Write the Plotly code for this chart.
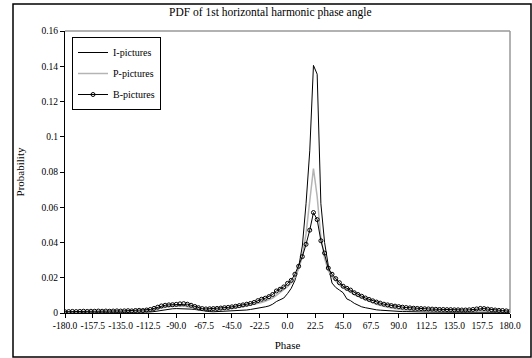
import plotly.graph_objects as go

# Phase bin centres (degrees)
phase = [-180, -177, -174, -171, -168, -165, -162, -159, -156, -153, -150, -147, -144, -141, -138, -135,
         -132, -129, -126, -123, -120, -117, -114, -111, -108, -105, -102, -99, -96, -93, -90, -87,
         -84, -81, -78, -75, -72, -69, -66, -63, -60, -57, -54, -51, -48, -45, -42, -39,
         -36, -33, -30, -27, -24, -21, -18, -15, -12, -9, -6, -3, 0, 3, 6, 9,
         12, 15, 18, 21, 24, 27, 30, 33, 36, 39, 42, 45, 48, 51, 54, 57,
         60, 63, 66, 69, 72, 75, 78, 81, 84, 87, 90, 93, 96, 99, 102, 105,
         108, 111, 114, 117, 120, 123, 126, 129, 132, 135, 138, 141, 144, 147, 150, 153,
         156, 159, 162, 165, 168, 171, 174, 177, 180]

i_pictures = [0.0003, 0.0003, 0.0004, 0.0003, 0.0004, 0.0004, 0.0003, 0.0004, 0.0004, 0.0005, 0.0004, 0.0004, 0.0005, 0.0004, 0.0005, 0.0005,
              0.0005, 0.0006, 0.0005, 0.0006, 0.0006, 0.0005, 0.0005, 0.0006, 0.0008, 0.0012, 0.0016, 0.0020, 0.0023, 0.0024, 0.0025, 0.0025,
              0.0024, 0.0023, 0.0022, 0.0020, 0.0016, 0.0013, 0.0010, 0.0008, 0.0007, 0.0008, 0.0007, 0.0008, 0.0008, 0.0009, 0.0010, 0.0012,
              0.0015, 0.0017, 0.0020, 0.0023, 0.0028, 0.0032, 0.0035, 0.0040, 0.0050, 0.0065, 0.0075, 0.0085, 0.0110, 0.0140, 0.0185, 0.0260,
              0.0380, 0.0620, 0.0920, 0.1405, 0.1355, 0.0620, 0.0400, 0.0270, 0.0170, 0.0145, 0.0130, 0.0115, 0.0080, 0.0070, 0.0055, 0.0045,
              0.0035, 0.0030, 0.0025, 0.0022, 0.0018, 0.0016, 0.0014, 0.0012, 0.0011, 0.0010, 0.0009, 0.0008, 0.0008, 0.0007, 0.0007, 0.0006,
              0.0006, 0.0006, 0.0005, 0.0005, 0.0005, 0.0005, 0.0004, 0.0005, 0.0004, 0.0004, 0.0004, 0.0004, 0.0004, 0.0004, 0.0005, 0.0005,
              0.0006, 0.0006, 0.0005, 0.0005, 0.0004, 0.0004, 0.0003, 0.0003, 0.0003]

p_pictures = [0.0004, 0.0005, 0.0005, 0.0005, 0.0006, 0.0006, 0.0005, 0.0006, 0.0006, 0.0007, 0.0006, 0.0007, 0.0007, 0.0007, 0.0008, 0.0007,
              0.0008, 0.0008, 0.0008, 0.0008, 0.0009, 0.0010, 0.0012, 0.0015, 0.0020, 0.0025, 0.0030, 0.0035, 0.0037, 0.0039, 0.0040, 0.0040,
              0.0039, 0.0036, 0.0031, 0.0026, 0.0021, 0.0018, 0.0016, 0.0016, 0.0017, 0.0018, 0.0019, 0.0021, 0.0023, 0.0025, 0.0028, 0.0032,
              0.0036, 0.0040, 0.0044, 0.0048, 0.0054, 0.0060, 0.0067, 0.0075, 0.0085, 0.0100, 0.0115, 0.0130, 0.0150, 0.0170, 0.0200, 0.0250,
              0.0320, 0.0450, 0.0650, 0.0820, 0.0660, 0.0430, 0.0310, 0.0240, 0.0205, 0.0180, 0.0160, 0.0145, 0.0130, 0.0118, 0.0105, 0.0095,
              0.0085, 0.0075, 0.0067, 0.0058, 0.0050, 0.0043, 0.0037, 0.0032, 0.0028, 0.0024, 0.0021, 0.0019, 0.0017, 0.0016, 0.0015, 0.0014,
              0.0013, 0.0013, 0.0012, 0.0012, 0.0011, 0.0011, 0.0010, 0.0010, 0.0010, 0.0009, 0.0009, 0.0009, 0.0009, 0.0009, 0.0009, 0.0010,
              0.0011, 0.0011, 0.0010, 0.0009, 0.0008, 0.0008, 0.0007, 0.0007, 0.0006]

b_pictures = [0.0007, 0.0008, 0.0009, 0.0008, 0.0009, 0.0010, 0.0009, 0.0010, 0.0010, 0.0011, 0.0010, 0.0011, 0.0010, 0.0011, 0.0012, 0.0011,
              0.0012, 0.0013, 0.0012, 0.0014, 0.0015, 0.0014, 0.0017, 0.0020, 0.0026, 0.0033, 0.0040, 0.0044, 0.0046, 0.0047, 0.0049, 0.0052,
              0.0053, 0.0050, 0.0044, 0.0037, 0.0030, 0.0025, 0.0023, 0.0024, 0.0025, 0.0026, 0.0028, 0.0030, 0.0032, 0.0035, 0.0038, 0.0042,
              0.0046, 0.0050, 0.0054, 0.0060, 0.0070, 0.0078, 0.0084, 0.0093, 0.0105, 0.0125, 0.0135, 0.0148, 0.0168, 0.0185, 0.0220, 0.0265,
              0.0320, 0.0390, 0.0470, 0.0570, 0.0530, 0.0410, 0.0340, 0.0255, 0.0220, 0.0195, 0.0172, 0.0152, 0.0140, 0.0130, 0.0115, 0.0105,
              0.0095, 0.0085, 0.0077, 0.0069, 0.0062, 0.0056, 0.0050, 0.0046, 0.0042, 0.0039, 0.0036, 0.0033, 0.0031, 0.0029, 0.0027, 0.0026,
              0.0025, 0.0024, 0.0023, 0.0022, 0.0021, 0.0020, 0.0020, 0.0019, 0.0019, 0.0018, 0.0018, 0.0017, 0.0017, 0.0018, 0.0020, 0.0023,
              0.0026, 0.0025, 0.0022, 0.0019, 0.0017, 0.0015, 0.0014, 0.0012, 0.0010]

x_tick_vals = [-180, -157.5, -135, -112.5, -90, -67.5, -45, -22.5, 0, 22.5, 45, 67.5, 90, 112.5, 135, 157.5, 180]
x_tick_text = ["-180.0", "-157.5", "-135.0", "-112.5", "-90.0", "-67.5", "-45.0", "-22.5", "0.0",
               "22.5", "45.0", "67.5", "90.0", "112.5", "135.0", "157.5", "180.0"]
y_tick_vals = [0, 0.02, 0.04, 0.06, 0.08, 0.1, 0.12, 0.14, 0.16]
y_tick_text = ["0", "0.02", "0.04", "0.06", "0.08", "0.1", "0.12", "0.14", "0.16"]

SERIF = "Liberation Serif, Times New Roman, serif"

fig = go.Figure()
fig.add_trace(go.Scatter(x=phase, y=i_pictures, name="I-pictures", mode="lines",
                         line=dict(color="black", width=1), legendgroup="i"))
fig.add_trace(go.Scatter(x=phase, y=p_pictures, name="P-pictures", mode="lines",
                         line=dict(color="#b4b4b4", width=1.5), legendgroup="p"))
fig.add_trace(go.Scatter(x=phase, y=b_pictures, name="B-pictures", mode="lines+markers",
                         line=dict(color="black", width=1),
                         marker=dict(symbol="circle-open", size=4, color="black", line=dict(width=1)),
                         legendgroup="b"))

W, H = 532, 358
L, R, T, B = 65, 22, 31, 45
pw, ph = W - L - R, H - T - B

def px_x(p):
    return (p - L) / pw

def px_y(p):
    return (H - B - p) / ph

fig.update_layout(
    width=W, height=H,
    margin=dict(l=L, r=R, t=T, b=B, autoexpand=False),
    paper_bgcolor="white", plot_bgcolor="white",
    font=dict(family=SERIF, size=10, color="black"),
    title=dict(text="PDF of 1st horizontal harmonic phase angle", x=0.508, xanchor="center",
               y=1 - 12 / H, yanchor="middle", font=dict(family=SERIF, size=11.5, color="black")),
    showlegend=True,
    legend=dict(x=px_x(72), y=px_y(37), xanchor="left", yanchor="top",
                bordercolor="black", borderwidth=1, bgcolor="white",
                font=dict(family=SERIF, size=10, color="black"),
                tracegroupgap=2, itemwidth=30),
    xaxis=dict(range=[-180, 180], tickvals=x_tick_vals, ticktext=x_tick_text, tickangle=0,
               automargin=False, tickfont=dict(family=SERIF, size=9.5),
               showgrid=False, zeroline=False, showline=True, linecolor="black", linewidth=1,
               ticks="outside", ticklen=4, tickcolor="black",
               title=dict(text="Phase", font=dict(family=SERIF, size=11), standoff=10)),
    yaxis=dict(range=[0, 0.16], tickvals=y_tick_vals, ticktext=y_tick_text,
               automargin=False, tickfont=dict(family=SERIF, size=9.5),
               showgrid=False, zeroline=False, showline=True, linecolor="black", linewidth=1,
               ticks="outside", ticklen=4, tickcolor="black",
               title=dict(text="Probability", font=dict(family=SERIF, size=11), standoff=14)),
    shapes=[
        # plot area border (top and right, gray)
        dict(type="line", xref="paper", yref="paper", x0=0, x1=1, y0=1, y1=1,
             line=dict(color="#999999", width=1.5)),
        dict(type="line", xref="paper", yref="paper", x0=1, x1=1, y0=0, y1=1,
             line=dict(color="#999999", width=1.5)),
        # outer chart border
        dict(type="rect", xref="paper", yref="paper",
             x0=px_x(13), x1=px_x(531), y0=px_y(357), y1=px_y(4),
             line=dict(color="black", width=1.5), layer="below"),
    ],
)

fig.write_html("out.html")
